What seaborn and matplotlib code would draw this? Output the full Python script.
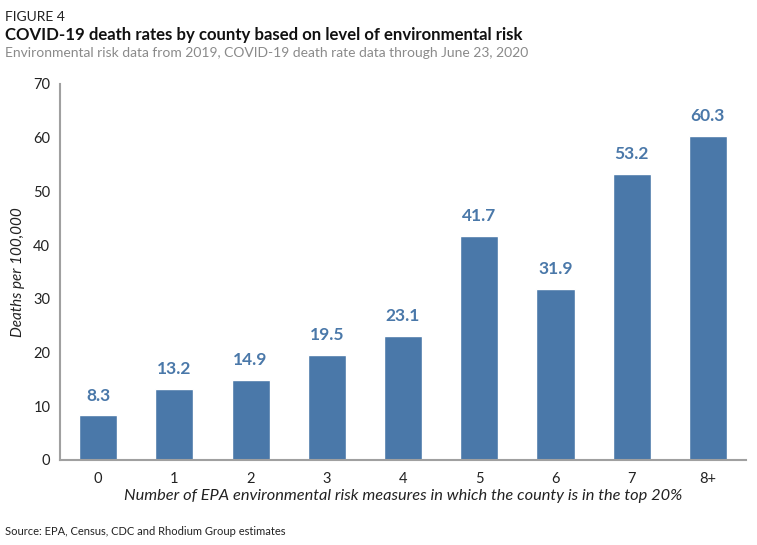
import matplotlib
matplotlib.use("Agg")
import matplotlib.pyplot as plt
import seaborn as sns
import pandas as pd

categories = ["0", "1", "2", "3", "4", "5", "6", "7", "8+"]
values = [8.3, 13.2, 14.9, 19.5, 23.1, 41.7, 31.9, 53.2, 60.3]
yticks = [0, 10, 20, 30, 40, 50, 60, 70]

sns.set_theme(style="white")
plt.rcParams['font.family'] = ['Lato', 'DejaVu Sans']

bar_color = "#4a78a9"
df = pd.DataFrame({"cat": categories, "val": values})

fig = plt.figure(figsize=(7.57, 5.45), dpi=100)
ax = fig.add_axes([0.0793, 0.156, 0.9062, 0.69])
sns.barplot(data=df, x="cat", y="val", color=bar_color, width=0.5,
            saturation=1, ax=ax)
ax.set_xlim(-0.5, 8.5)
ax.set_ylim(0, 70)
ax.set_yticks(yticks)
ax.set_yticklabels([str(t) for t in yticks], fontsize=10.5, color="#222222")
ax.tick_params(axis='x', labelsize=10.5, colors="#222222", pad=9, length=0)
ax.tick_params(axis='y', length=0, pad=7)
for s in ["top", "right"]:
    ax.spines[s].set_visible(False)
for s in ["left", "bottom"]:
    ax.spines[s].set_color("#a0a0a0")
    ax.spines[s].set_linewidth(1.5)

for i, v in enumerate(values):
    ax.text(i, v + 2.2, f"{v:.1f}", ha="center", va="bottom", fontsize=12.5,
            fontweight="bold", color=bar_color)

ax.set_xlabel("Number of EPA environmental risk measures in which the county is in the top 20%",
              fontsize=11.8, fontstyle="italic", color="#222222", labelpad=2)
ax.set_ylabel("Deaths per 100,000", fontsize=11, fontstyle="italic",
              color="#222222", labelpad=6)

fig.text(0.007, 0.980, "FIGURE 4", fontsize=10, color="#222222", va="top")
fig.text(0.007, 0.950, "COVID-19 death rates by county based on level of environmental risk",
         fontsize=12.1, fontweight="bold", color="#111111", va="top")
fig.text(0.007, 0.913, "Environmental risk data from 2019, COVID-19 death rate data through June 23, 2020",
         fontsize=10, color="#8a8a8a", va="top")
fig.text(0.007, 0.025, "Source: EPA, Census, CDC and Rhodium Group estimates",
         fontsize=8, color="#222222", va="center")

fig.savefig("out.png", dpi=100)
